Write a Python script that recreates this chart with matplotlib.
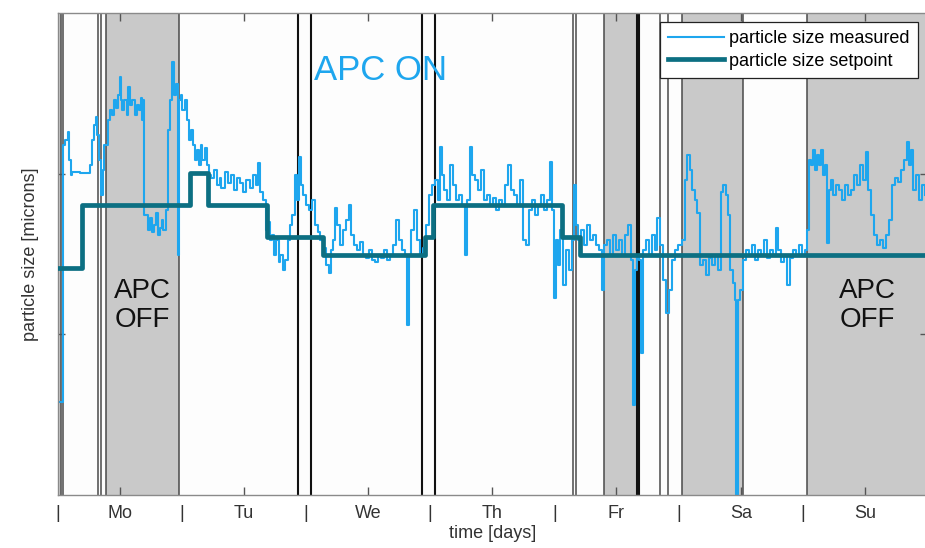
import matplotlib
matplotlib.use("Agg")
import matplotlib.pyplot as plt

plt.rcParams["font.family"] = ["Liberation Sans", "DejaVu Sans"]

# measured particle size, time in days from start of week
meas_days = [
    0.000, 0.032, 0.040, 0.048, 0.064, 0.081, 0.089, 0.105, 0.113, 0.177,
    0.242, 0.258, 0.274, 0.290, 0.306, 0.314, 0.330, 0.346, 0.362, 0.378,
    0.403, 0.419, 0.435, 0.451, 0.467, 0.483, 0.499, 0.507, 0.523, 0.539,
    0.556, 0.564, 0.580, 0.596, 0.620, 0.636, 0.652, 0.668, 0.684, 0.692,
    0.700, 0.725, 0.741, 0.757, 0.773, 0.789, 0.805, 0.821, 0.837, 0.853,
    0.870, 0.886, 0.902, 0.918, 0.934, 0.950, 0.966, 0.974, 0.990, 1.006,
    1.023, 1.039, 1.055, 1.071, 1.087, 1.103, 1.119, 1.135, 1.151, 1.167,
    1.184, 1.200, 1.216, 1.232, 1.256, 1.280, 1.304, 1.320, 1.345, 1.369,
    1.393, 1.417, 1.441, 1.465, 1.490, 1.514, 1.546, 1.570, 1.594, 1.610,
    1.626, 1.651, 1.675, 1.691, 1.707, 1.723, 1.739, 1.755, 1.779, 1.795,
    1.812, 1.828, 1.852, 1.868, 1.884, 1.908, 1.924, 1.940, 1.957, 1.973,
    1.997, 2.021, 2.045, 2.069, 2.093, 2.110, 2.134, 2.158, 2.182, 2.198,
    2.214, 2.230, 2.246, 2.271, 2.295, 2.319, 2.343, 2.359, 2.383, 2.407,
    2.432, 2.456, 2.480, 2.504, 2.528, 2.552, 2.576, 2.601, 2.625, 2.649,
    2.673, 2.697, 2.721, 2.746, 2.770, 2.794, 2.810, 2.826, 2.842, 2.866,
    2.890, 2.915, 2.939, 2.963, 2.987, 3.011, 3.035, 3.060, 3.076, 3.092,
    3.108, 3.132, 3.156, 3.180, 3.205, 3.229, 3.253, 3.277, 3.293, 3.317,
    3.333, 3.357, 3.382, 3.406, 3.430, 3.454, 3.478, 3.502, 3.527, 3.551,
    3.575, 3.599, 3.623, 3.647, 3.671, 3.696, 3.720, 3.744, 3.768, 3.792,
    3.816, 3.841, 3.865, 3.889, 3.913, 3.937, 3.961, 3.977, 3.994, 4.010,
    4.026, 4.042, 4.066, 4.090, 4.114, 4.138, 4.155, 4.171, 4.187, 4.211,
    4.235, 4.259, 4.283, 4.308, 4.332, 4.356, 4.380, 4.396, 4.420, 4.444,
    4.469, 4.493, 4.517, 4.541, 4.565, 4.589, 4.614, 4.630, 4.646, 4.662,
    4.678, 4.694, 4.710, 4.734, 4.758, 4.783, 4.807, 4.823, 4.847, 4.871,
    4.895, 4.919, 4.944, 4.968, 4.992, 5.024, 5.048, 5.064, 5.089, 5.105,
    5.129, 5.145, 5.169, 5.193, 5.217, 5.242, 5.266, 5.290, 5.314, 5.338,
    5.354, 5.378, 5.395, 5.411, 5.435, 5.451, 5.459, 5.475, 5.491, 5.515,
    5.539, 5.564, 5.588, 5.612, 5.636, 5.660, 5.684, 5.709, 5.733, 5.757,
    5.781, 5.797, 5.821, 5.845, 5.870, 5.894, 5.918, 5.942, 5.966, 5.990,
    6.014, 6.031, 6.047, 6.063, 6.079, 6.095, 6.111, 6.127, 6.143, 6.159,
    6.176, 6.192, 6.208, 6.224, 6.240, 6.264, 6.288, 6.312, 6.337, 6.361,
    6.385, 6.409, 6.433, 6.457, 6.481, 6.506, 6.522, 6.546, 6.570, 6.594,
    6.618, 6.643, 6.667, 6.691, 6.715, 6.739, 6.763, 6.787, 6.812, 6.836,
    6.852, 6.868, 6.884, 6.908, 6.932, 6.957, 6.981,
]
meas_size = [
    0.579, 0.579, 0.579, 2.181, 2.212, 2.262, 2.087, 1.994, 2.012, 2.006,
    2.006, 2.056, 2.212, 2.305, 2.355, 2.243, 2.087, 1.869, 2.025, 2.181,
    2.336, 2.399, 2.368, 2.461, 2.411, 2.492, 2.604, 2.461, 2.399, 2.461,
    2.368, 2.542, 2.430, 2.461, 2.368, 2.430, 2.399, 2.474, 2.336, 2.461,
    1.745, 1.651, 1.726, 1.639, 1.682, 1.757, 1.620, 1.664, 1.713, 1.651,
    1.776, 2.274, 2.461, 2.698, 2.492, 2.555, 1.495, 2.461, 2.492, 2.399,
    2.461, 2.336, 2.212, 2.274, 2.181, 2.087, 2.150, 2.056, 2.181, 2.087,
    2.162, 2.056, 1.994, 1.975, 2.025, 1.931, 1.975, 1.913, 2.012, 1.944,
    1.994, 1.900, 1.975, 1.944, 1.888, 1.963, 1.913, 1.994, 1.931, 2.069,
    1.888, 1.838, 1.651, 1.701, 1.589, 1.620, 1.495, 1.589, 1.452, 1.495,
    1.402, 1.464, 1.589, 1.682, 1.745, 1.994, 1.838, 2.106, 1.931, 1.869,
    1.807, 1.776, 1.838, 1.682, 1.639, 1.589, 1.539, 1.433, 1.383, 1.526,
    1.589, 1.788, 1.682, 1.558, 1.651, 1.713, 1.807, 1.620, 1.558, 1.526,
    1.576, 1.495, 1.477, 1.526, 1.464, 1.452, 1.495, 1.477, 1.526, 1.464,
    1.495, 1.558, 1.713, 1.589, 1.526, 1.495, 1.059, 1.495, 1.651, 1.776,
    1.589, 1.495, 1.539, 1.682, 1.869, 1.931, 1.963, 1.838, 2.168, 1.994,
    1.900, 1.838, 2.056, 1.931, 1.838, 1.869, 1.807, 1.495, 1.838, 2.168,
    1.994, 1.963, 1.900, 2.025, 1.838, 1.869, 1.807, 1.850, 1.776, 1.838,
    1.807, 1.931, 2.056, 1.900, 1.869, 1.807, 1.963, 1.589, 1.558, 1.776,
    1.838, 1.745, 1.807, 1.869, 1.776, 1.838, 2.075, 1.776, 1.227, 1.589,
    1.433, 1.651, 1.308, 1.526, 1.402, 1.589, 1.931, 1.682, 1.589, 1.651,
    1.558, 1.682, 1.589, 1.620, 1.558, 1.526, 1.277, 1.558, 1.589, 1.495,
    1.620, 1.526, 1.589, 1.495, 1.620, 1.682, 1.464, 0.561, 1.402, 1.495,
    1.464, 0.885, 1.526, 1.589, 1.495, 1.620, 1.526, 1.726, 1.558, 1.340,
    1.134, 1.277, 1.464, 1.526, 1.558, 1.589, 1.963, 2.118, 2.025, 1.900,
    1.838, 1.757, 1.433, 1.464, 1.371, 1.477, 1.433, 1.495, 1.402, 1.888,
    1.931, 1.869, 1.745, 1.402, 1.321, 1.215, 0.000, 1.215, 1.277, 1.464,
    1.526, 1.495, 1.558, 1.464, 1.526, 1.495, 1.589, 1.477, 1.526, 1.495,
    1.664, 1.526, 1.452, 1.495, 1.308, 1.477, 1.526, 1.495, 1.558, 1.495,
    1.526, 1.651, 2.087, 2.056, 2.150, 2.025, 2.118, 2.056, 2.150, 1.994,
    2.056, 1.570, 1.900, 1.963, 1.869, 1.931, 1.900, 1.838, 1.931, 1.869,
    1.900, 1.994, 1.931, 2.056, 1.963, 2.137, 1.900, 1.745, 1.620, 1.558,
    1.589, 1.539, 1.620, 1.713, 1.931, 1.975, 1.950, 2.025, 2.087, 2.199,
    2.056, 2.150, 1.900, 1.994, 1.838, 1.931, 1.869,
]

# controller setpoint, piecewise constant
set_days = [0.0, 0.193, 1.063, 1.208, 1.683, 2.134, 2.960, 3.019, 4.058, 4.203, 7.0]
set_size = [1.414, 1.807, 2.006, 1.807, 1.607, 1.495, 1.607, 1.807, 1.607, 1.495, 1.495]

# periods with the controller switched on (white); the rest stays grey
on_periods = [(0.027, 0.392), (0.974, 4.399), (4.664, 5.027), (5.518, 6.036)]
edges_thin = [0.027, 0.048, 0.324, 0.346, 0.392, 0.974, 4.149, 4.171,
              4.399, 4.853, 4.914, 5.027, 5.518, 6.036]
edges_bold = [1.935, 2.043, 2.933, 3.035, 4.664, 4.682]

day_names = ["Mo", "Tu", "We", "Th", "Fr", "Sa", "Su"]

blue = "#1ea6ee"
teal = "#0c6f82"

fig = plt.figure(figsize=(9.25, 5.48), dpi=100)
ax = fig.add_axes([0.0622, 0.0967, 0.940, 0.8796])
ax.set_facecolor("#c9c9c9")

for a, b in on_periods:
    ax.axvspan(a, b, color="#fdfdfd", lw=0, zorder=0.6)
for x in edges_thin:
    ax.axvline(x, color="#4a4a4a", lw=1.1, zorder=1)
for x in edges_bold:
    ax.axvline(x, color="#111111", lw=1.5, zorder=1)

ax.plot(meas_days, meas_size, color=blue, lw=1.5, drawstyle="steps-post",
        label="particle size measured", zorder=2)
ax.plot(set_days, set_size, color=teal, lw=3.4, drawstyle="steps-post",
        label="particle size setpoint", zorder=3)

ax.text(2.6, 2.64, "APC ON", color=blue, fontsize=25, ha="center", va="center")
for xc in (0.684, 6.52):
    ax.text(xc, 1.18, "APC\nOFF", color="#111111", fontsize=20,
            ha="center", va="center", linespacing=1.15)

ax.set_xlim(0, 7)
ax.set_ylim(0, 3)
ax.set_xticks([i + 0.5 for i in range(7)])
ax.set_xticklabels(day_names)
ax.set_xticks(range(7), minor=True)
ax.set_xticklabels(["|"] * 7, minor=True)
ax.set_yticks([1, 2])
ax.set_yticklabels([])
ax.tick_params(axis="x", which="major", direction="in", length=6, width=1,
               color="#555555", top=True, labelsize=13, labelcolor="#333333", pad=7)
ax.tick_params(axis="x", which="minor", length=0, labelsize=13,
               labelcolor="#333333", pad=7)
ax.tick_params(axis="y", direction="in", length=5, width=1, color="#555555",
               right=True)
for s in ax.spines.values():
    s.set_color("#8a8a8a")
    s.set_linewidth(1.0)

ax.set_xlabel("time [days]", fontsize=13, color="#333333", labelpad=2)
ax.set_ylabel("particle size [microns]", fontsize=13, color="#333333", labelpad=10)

leg = ax.legend(loc="upper right", bbox_to_anchor=(0.9896, 0.981), fontsize=13,
                fancybox=False, framealpha=1, edgecolor="#222222",
                handlelength=3.1, handletextpad=0.3, borderpad=0.45,
                labelspacing=0.3, borderaxespad=0)
leg.get_frame().set_linewidth(0.9)
leg.set_zorder(5)

fig.savefig("out.png", dpi=100)
